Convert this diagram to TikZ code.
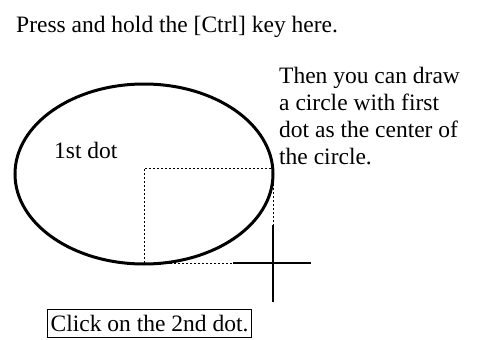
\documentclass[tikz,border=0pt]{standalone}
\usepackage{fontspec}
\setmainfont{Liberation Serif}
\begin{document}
\begin{tikzpicture}[x=1pt,y=-1pt,
  txt/.style={font=\fontsize{23.5}{27}\selectfont, inner sep=0pt, anchor=base west},
  guide/.style={line width=1pt, dash pattern=on 2pt off 2pt},
  cross/.style={line width=1.3pt}]
\useasboundingbox (0,0) rectangle (480,340);
\node[txt] (top) at (16,32) {Press and hold the [Ctrl] key here.};
\node[txt, align=left, anchor=north west] (right) at (279,67) {Then you can draw\\a circle with first\\dot as the center of\\the circle.};
\node[txt] (first) at (54,158) {1st dot};
\node[draw, line width=1.3pt, font=\fontsize{23.5}{27}\selectfont, inner xsep=3pt, inner ysep=1.5pt, text height=20pt, text depth=5pt, anchor=base west] (click) at (47,331) {Click on the 2nd dot.};
\coordinate (c) at (144,168);
\coordinate (cr) at (273,168);
\coordinate (b) at (144,263);
\coordinate (p) at (273,263);
\draw[line width=3pt] (144,174) ellipse [x radius=129, y radius=90];
\draw[guide] (b) -- (c) -- (cr) -- (p) -- (b);
\draw[cross] (273,225) -- (273,302);
\draw[cross] (233,263) -- (311,263);
\end{tikzpicture}
\end{document}
